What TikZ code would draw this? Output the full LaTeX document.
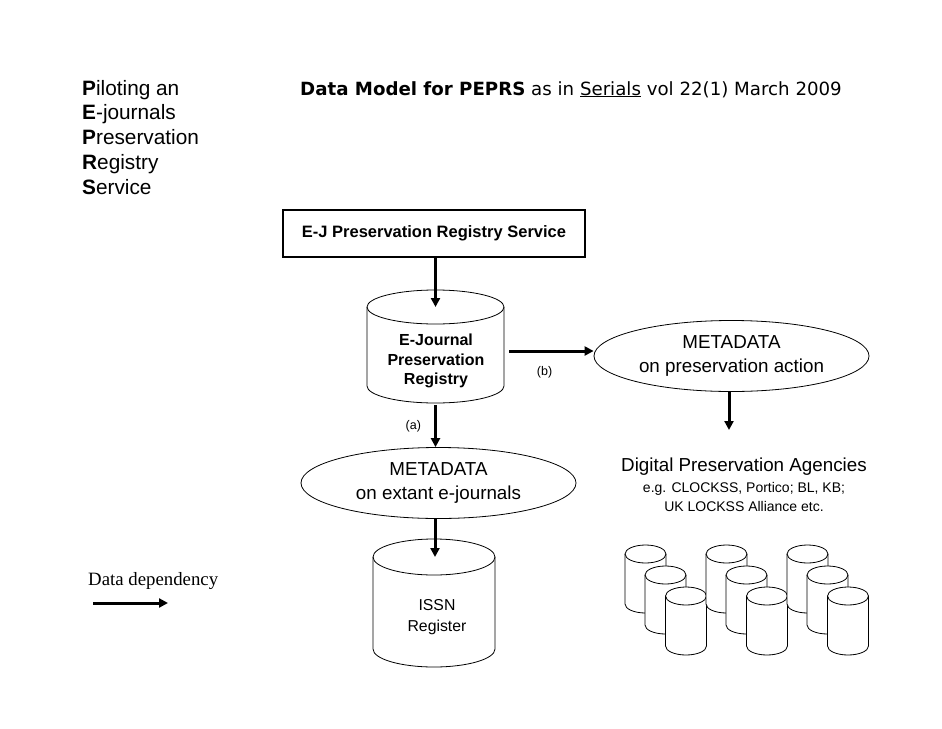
\documentclass[tikz,border=0pt]{standalone}
\usepackage{fontspec}
\setmainfont{Liberation Sans}
\newfontfamily\titlefont{DejaVu Sans}
\newfontfamily\seriffont{Liberation Serif}
\usetikzlibrary{arrows.meta,shapes.geometric}
\tikzset{
  flow/.style={line width=3pt,-{Triangle[length=9pt,width=9pt]}},
  oval/.style={ellipse,draw,line width=0.8pt,minimum width=275pt,minimum height=71pt,inner sep=0pt,align=center,font=\fontsize{18.8}{24}\selectfont},
  mainbox/.style={rectangle,draw,line width=2pt,minimum width=302pt,minimum height=47pt,inner sep=0pt,font=\bfseries\fontsize{16.5}{19}\selectfont},
  cyltext/.style={align=center,inner sep=0pt},
  small/.style={font=\fontsize{12.5}{15}\selectfont,inner sep=0pt},
  pics/cyl/.style n args={4}{code={%
    % #1 rx, #2 ry, #3 height (top centre to bottom centre), #4 line width
    \filldraw[fill=white,line width=#4] (-#1pt,0) -- (-#1pt,-#3) arc[start angle=180,end angle=360,x radius=#1pt,y radius=#2pt] -- (#1pt,0) arc[start angle=0,end angle=180,x radius=#1pt,y radius=#2pt] -- cycle;
    \draw[line width=#4] (-#1pt,0) arc[start angle=180,end angle=360,x radius=#1pt,y radius=#2pt];
  }}
}
\begin{document}
\begin{tikzpicture}[x=1pt,y=1pt]
\useasboundingbox[fill=white] (0,0) rectangle (942,-728);

% left title
\node[anchor=base west,align=left,inner sep=0pt,font=\fontsize{20.8}{24.75}\selectfont] (acro) at (82,-194)
  {\textbf{P}iloting an\\ \textbf{E}-journals\\ \textbf{P}reservation\\ \textbf{R}egistry\\ \textbf{S}ervice};

% top title
\node[anchor=base west,inner sep=0pt,font=\titlefont\fontsize{18.2}{20}\selectfont] (title) at (300,-95)
  {\textbf{Data Model for PEPRS} as in \underline{Serials} vol 22(1) March 2009};

% service box
\node[mainbox] (svc) at (434,-233.5) {E-J Preservation Registry Service};

% registry cylinder
\pic at (435.5,-307) {cyl={68.5}{17}{79}{0.8pt}};
\coordinate (regtop) at (435.5,-307);
\coordinate (regbot) at (435.5,-405);
\node[cyltext,font=\bfseries\fontsize{16}{19.5}\selectfont] (reg) at (436,-361) {E-Journal\\Preservation\\Registry};
\coordinate (regright) at (509,-351);

% metadata ellipses
\node[oval] (mpa) at (731.5,-356) {METADATA\\on preservation action};
\node[oval] (mej) at (438.5,-483) {METADATA\\on extant e-journals};

% ISSN cylinder
\pic at (434,-557) {cyl={61}{18}{92}{0.8pt}};
\coordinate (issntop) at (435,-557);
\node[cyltext,font=\fontsize{15.8}{21}\selectfont] (issn) at (437,-617) {ISSN\\Register};

% agencies
\node[align=center,inner sep=0pt,font=\fontsize{18.8}{22}\selectfont] (dpa) at (744,-467) {Digital Preservation Agencies};
\node[align=center,inner sep=0pt,font=\fontsize{14}{18.5}\selectfont] (dpb) at (744,-497) {e.g. CLOCKSS, Portico; BL, KB;\\UK LOCKSS Alliance etc.};

% agency cylinders (three groups of three)
\foreach \dx in {0,81,162}{
  \pic at (645.5+\dx,-554) {cyl={20.5}{9}{50}{0.8pt}};
  \pic at (665.5+\dx,-575) {cyl={20.5}{9}{50}{0.8pt}};
  \pic at (686+\dx,-596) {cyl={20.5}{9}{50}{0.8pt}};
}
\coordinate (agtop) at (729,-430);

% connectors
\draw[flow] (svc.south -| regtop) -- (regtop);
\draw[flow] (regright) -- (regright -| mpa.west) node[small,pos=0.42,below=14pt] (lb) {(b)};
\draw[flow] (regbot) -- (mej.north -| regbot) node[small,midway,left=13pt] (la) {(a)};
\draw[flow] (mej.south -| issntop) -- (issntop);
\draw[flow] (mpa.south -| agtop) -- (agtop);

% legend
\node[anchor=base west,inner sep=0pt,font=\seriffont\fontsize{18.8}{20}\selectfont] (legend) at (88,-585) {Data dependency};
\coordinate (lgs) at (93,-603);
\coordinate (lge) at (168,-603);
\draw[flow] (lgs) -- (lge);
\end{tikzpicture}
\end{document}
